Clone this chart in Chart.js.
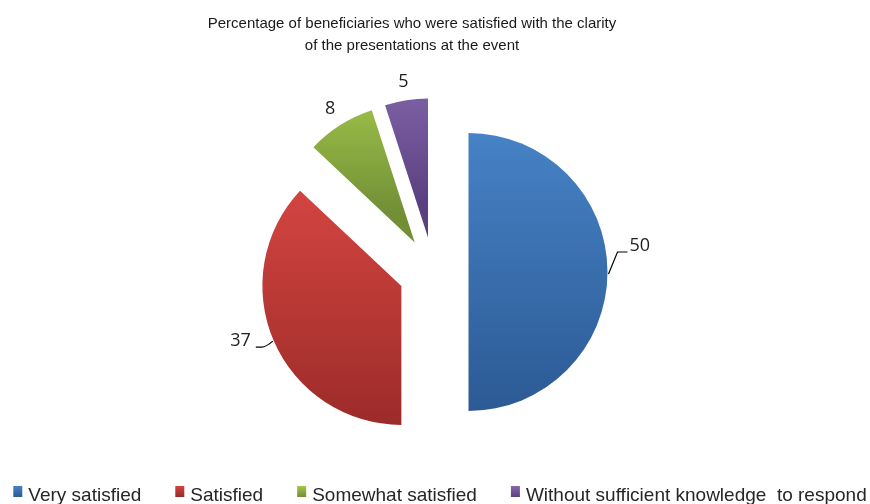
<!DOCTYPE html>
<html>
<head>
<meta charset="utf-8">
<script src="https://cdn.jsdelivr.net/npm/chart.js@4/dist/chart.umd.min.js"></script>
<style>
  html, body { margin: 0; padding: 0; background: #fff; }
  #wrap { width: 870px; height: 504px; }
</style>
</head>
<body>
<div id="wrap"><canvas id="pie"></canvas></div>
<script>
const titleLines = ["Percentage of beneficiaries who were satisfied with the clarity", "of the presentations at the event"];
const categories = ["Very satisfied", "Satisfied", "Somewhat satisfied", "Without sufficient knowledge  to respond"];
const percentages = [50, 37, 8, 5];
const topColors = ["#4682c6", "#d0433f", "#a2c74d", "#8669ae"];
const bottomColors = ["#2c5a94", "#982a28", "#728f35", "#5a4081"];

const RADIUS = 139;
const EXPLODE = 35;   // every slice is pulled out by the same distance

// vertical gradient over the bounding box of one exploded slice
function sliceGradient(chart, i) {
    const area = chart.chartArea;
    if (!area) return topColors[i];
    const total = percentages.reduce((a, b) => a + b, 0);
    let before = 0;
    for (let k = 0; k < i; k++) before += percentages[k];
    const a0 = -Math.PI / 2 + before / total * 2 * Math.PI;
    const a1 = a0 + percentages[i] / total * 2 * Math.PI;
    const mid = (a0 + a1) / 2;
    const cy = (area.top + area.bottom) / 2 + Math.sin(mid) * EXPLODE;
    let minY = cy, maxY = cy;
    for (let s = 0; s <= 40; s++) {
        const y = cy + Math.sin(a0 + (a1 - a0) * s / 40) * RADIUS;
        minY = Math.min(minY, y);
        maxY = Math.max(maxY, y);
    }
    const g = chart.ctx.createLinearGradient(0, minY, 0, maxY);
    g.addColorStop(0, topColors[i]);
    g.addColorStop(1, bottomColors[i]);
    return g;
}

// chart.js "offset" also grows the radius of the slice, so shift each arc ourselves
const explodeSlices = {
    id: "explodeSlices",
    afterDatasetUpdate(chart, args) {
        chart.getDatasetMeta(args.index).data.forEach((arc) => {
            if (arc._exploded) return;
            const baseDraw = arc.draw;
            arc.draw = function(ctx, area) {
                const mid = (this.startAngle + this.endAngle) / 2;
                ctx.save();
                ctx.translate(Math.cos(mid) * EXPLODE, Math.sin(mid) * EXPLODE);
                baseDraw.call(this, ctx, area);
                ctx.restore();
            };
            arc._exploded = true;
        });
    }
};

// value labels, with leader lines on the two big slices
const valueLabels = {
    id: "valueLabels",
    afterDatasetsDraw(chart) {
        const ctx = chart.ctx;
        const arcs = chart.getDatasetMeta(0).data;
        ctx.save();
        ctx.font = "18px 'Open Sans'";
        ctx.fillStyle = "#1f1f1f";
        ctx.strokeStyle = "#000";
        ctx.lineWidth = 1.2;
        ctx.textBaseline = "middle";
        arcs.forEach((arc, i) => {
            const p = arc.getProps(["x", "y", "startAngle", "endAngle", "outerRadius"], true);
            const mid = (p.startAngle + p.endAngle) / 2;
            const cx = p.x + Math.cos(mid) * EXPLODE;
            const cy = p.y + Math.sin(mid) * EXPLODE;
            const ex = cx + Math.cos(mid) * p.outerRadius;
            const ey = cy + Math.sin(mid) * p.outerRadius;
            const text = String(percentages[i]);
            if (i === 0) {
                ctx.beginPath();
                ctx.moveTo(ex + 1, ey + 2);
                ctx.lineTo(ex + 10, ey - 20);
                ctx.lineTo(ex + 20, ey - 20);
                ctx.stroke();
                ctx.textAlign = "left";
                ctx.fillText(text, ex + 22, ey - 26);
            } else if (i === 1) {
                ctx.beginPath();
                ctx.moveTo(ex - 1, ey);
                ctx.quadraticCurveTo(ex - 8, ey + 6, ex - 12, ey + 6);
                ctx.lineTo(ex - 18, ey + 6);
                ctx.stroke();
                ctx.textAlign = "right";
                ctx.fillText(text, ex - 23, ey);
            } else {
                const r = p.outerRadius + 19;
                ctx.textAlign = "center";
                ctx.fillText(text, cx + Math.cos(mid) * r, cy + Math.sin(mid) * r);
            }
        });
        ctx.restore();
    }
};

// title and one-row legend drawn directly on the canvas
const frameText = {
    id: "frameText",
    afterDraw(chart) {
        const ctx = chart.ctx;
        ctx.save();
        ctx.fillStyle = "#1a1a1a";
        ctx.textAlign = "center";
        ctx.textBaseline = "alphabetic";
        ctx.font = "15px 'Liberation Sans', Arial, sans-serif";
        titleLines.forEach((line, k) => ctx.fillText(line, 412, 28 + k * 22));

        ctx.font = "19px 'Liberation Sans', Arial, sans-serif";
        ctx.textAlign = "left";
        const gap = 34;
        const widths = categories.map(c => 15 + ctx.measureText(c).width);
        const total = widths.reduce((a, b) => a + b, 0) + gap * (categories.length - 1);
        let x = 440 - total / 2;
        categories.forEach((c, i) => {
            const g = ctx.createLinearGradient(0, 486, 0, 497);
            g.addColorStop(0, topColors[i]);
            g.addColorStop(1, bottomColors[i]);
            ctx.fillStyle = g;
            ctx.fillRect(x, 486, 9, 11);
            ctx.fillStyle = "#262626";
            ctx.fillText(c, x + 15, 501);
            x += widths[i] + gap;
        });
        ctx.restore();
    }
};

new Chart(document.getElementById("pie"), {
    type: "pie",
    data: {
        labels: categories,
        datasets: [{
            data: percentages,
            backgroundColor: (c) => sliceGradient(c.chart, c.dataIndex),
            borderWidth: 0,
            hoverOffset: 0
        }]
    },
    options: {
        responsive: true,
        maintainAspectRatio: false,
        animation: false,
        radius: RADIUS,
        layout: { padding: { left: 0, right: 3, top: 60, bottom: 20 } },
        plugins: {
            legend: { display: false },
            title: { display: false },
            tooltip: { enabled: false }
        }
    },
    plugins: [explodeSlices, valueLabels, frameText]
});
</script>
</body>
</html>
